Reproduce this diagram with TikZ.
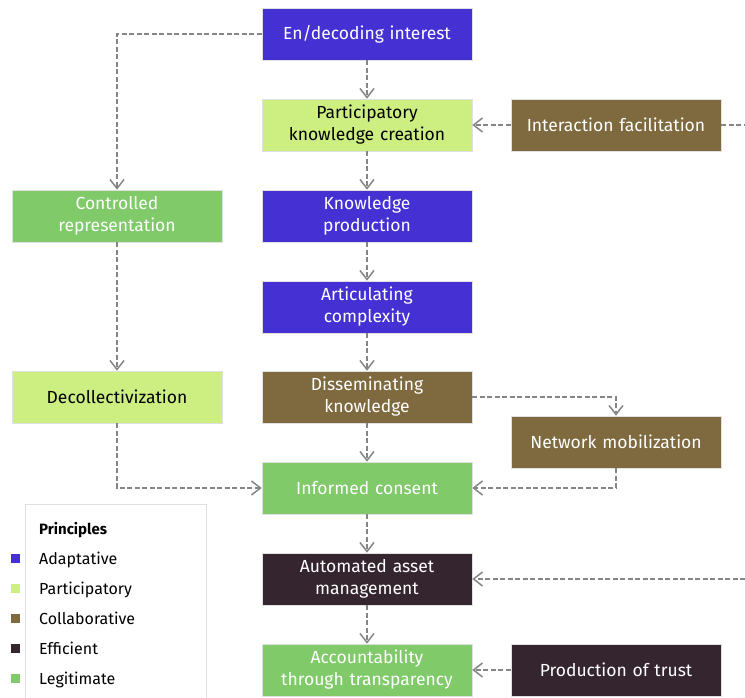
\documentclass[tikz,border=0pt]{standalone}
\usepackage{fontspec}
\setmainfont{Fira Sans}
\usetikzlibrary{positioning,arrows.meta}

\definecolor{adaptcol}{HTML}{4530D4}
\definecolor{particol}{HTML}{CDEF82}
\definecolor{collabcol}{HTML}{7E6A3E}
\definecolor{efficol}{HTML}{35252F}
\definecolor{legitcol}{HTML}{80CA6A}
\definecolor{linkcol}{HTML}{858585}

\tikzset{
  box/.style={draw=black!12, line width=0.6pt, minimum width=210pt, minimum height=52pt,
    text width=205pt, align=center, inner sep=0pt, font=\fontsize{17.5}{22}\selectfont},
  adapt/.style={box, fill=adaptcol, text=white},
  parti/.style={box, fill=particol, text=black},
  collab/.style={box, fill=collabcol, text=white},
  effic/.style={box, fill=efficol, text=white},
  legit/.style={box, fill=legitcol, text=white},
  link/.style={draw=linkcol, line width=2pt, dash pattern=on 5pt off 2.5pt,
    -{Straight Barb[length=9pt,width=14pt,line width=1.5pt]}},
  legitem/.style={anchor=base west, inner sep=0pt, font=\fontsize{16}{18}\selectfont},
}

\begin{document}
\begin{tikzpicture}[x=1pt,y=-1pt]
  \useasboundingbox (0,0) rectangle (745,698);

  % centre column
  \node[adapt]  (encode)  at (367,34)  {En/decoding interest};
  \node[parti]  (pkc)     at (367,125) {Participatory\\knowledge creation};
  \node[adapt]  (kprod)   at (367,216) {Knowledge\\production};
  \node[adapt]  (artic)   at (367,307) {Articulating\\complexity};
  \node[collab] (dissem)  at (367,397) {Disseminating\\knowledge};
  \node[legit]  (consent) at (367,488) {Informed consent};
  \node[effic]  (auto)    at (367,579) {Automated asset\\management};
  \node[legit]  (account) at (367,670) {Accountability\\through transparency};

  % side columns
  \node[legit]  (ctrl)    at (117,216) {Controlled\\representation};
  \node[parti]  (decol)   at (117,397) {Decollectivization};
  \node[collab] (inter)   at (616,125) {Interaction facilitation};
  \node[collab] (netmob)  at (616,442) {Network mobilization};
  \node[effic]  (trust)   at (616,670) {Production of trust};

  % loose ends at the right border
  \coordinate (outA) at (745,125);
  \coordinate (outB) at (745,579);

  \draw[link] (encode.west) -| (ctrl.north);
  \draw[link] (encode) -- (pkc);
  \draw[link] (inter) -- (pkc);
  \draw[link,-] (inter.east) -- (outA);
  \draw[link] (pkc) -- (kprod);
  \draw[link] (kprod) -- (artic);
  \draw[link] (ctrl) -- (decol);
  \draw[link] (artic) -- (dissem);
  \draw[link] (dissem.east) -| (netmob.north);
  \draw[link] (dissem) -- (consent);
  \draw[link] (decol.south) |- (consent.west);
  \draw[link] (netmob.south) |- (consent.east);
  \draw[link] (consent) -- (auto);
  \draw[link] (outB) -- (auto.east);
  \draw[link] (auto) -- (account);
  \draw[link] (trust) -- (account);

  % legend
  \node[draw=black!12, line width=0.6pt, fill=white, minimum width=181pt, minimum height=194pt,
    inner sep=0pt] (legend) at (115.5,601) {};
  \node[legitem, font=\fontsize{15}{18}\selectfont\bfseries] (lgtitle) at (39,534) {Principles};
  \foreach \col/\lab [count=\i] in {adaptcol/Adaptative, particol/Participatory,
      collabcol/Collaborative, efficol/Efficient, legitcol/Legitimate}
  {
    \node[fill=\col, minimum size=9pt, inner sep=0pt] (sq\i) at (15.5,528+30*\i) {};
    \node[legitem] (lab\i) at (39,534+30*\i) {\lab};
  }
\end{tikzpicture}
\end{document}
